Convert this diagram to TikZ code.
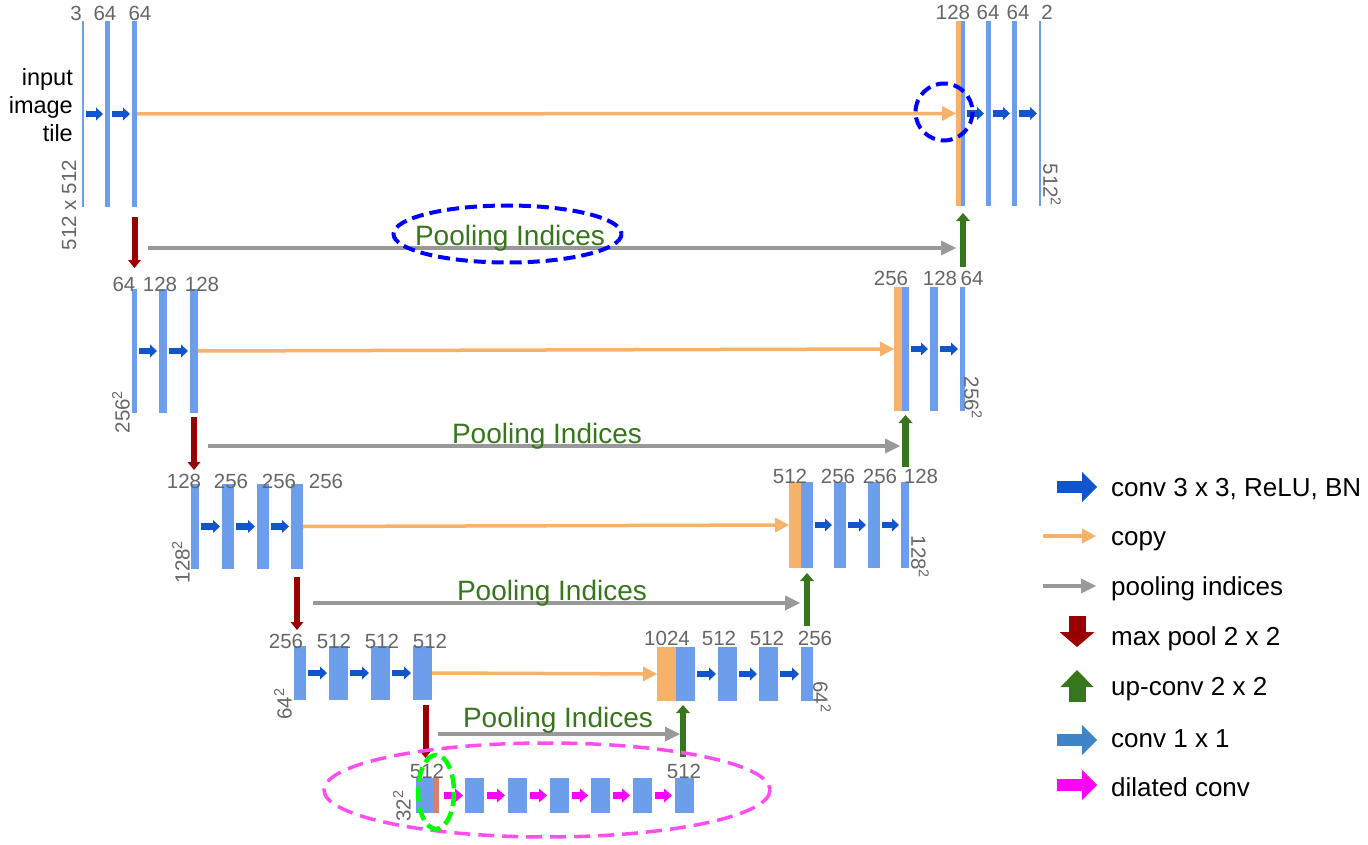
\documentclass[tikz,border=0pt]{standalone}
\usepackage{fontspec}
\setmainfont{Liberation Sans}
\usetikzlibrary{arrows.meta}
\definecolor{barblue}{HTML}{6D9EEB}
\definecolor{copyor}{HTML}{F6B26B}
\definecolor{convblue}{HTML}{1155CC}
\definecolor{onebl}{HTML}{3D85C6}
\definecolor{poolgray}{HTML}{999999}
\definecolor{maxred}{HTML}{990000}
\definecolor{upgreen}{HTML}{38761D}
\definecolor{labgray}{HTML}{666666}
\definecolor{salmonbar}{HTML}{DD7E6B}
\definecolor{dilmag}{HTML}{FF00FF}
\definecolor{ellmag}{HTML}{FF4DF0}
\definecolor{ellgreen}{HTML}{00FF00}
\definecolor{ellblue}{HTML}{0000FF}
\newcommand{\blk}[6]{\node[blkbox, fill=#2, minimum width={#4-#3}, minimum height={#6-#5}, anchor=north west] (#1) at (#3,#5) {};}
\begin{document}
\begin{tikzpicture}[x=1pt,y=-1pt,
  blkbox/.style={draw=none, inner sep=0pt, outer sep=0pt, rectangle},
  num/.style={text=labgray, font=\fontsize{20.5}{20.5}\selectfont, inner sep=0pt},
  conv/.style={draw=convblue, line width=6.5pt, -{Triangle[length=7pt,width=13pt,line width=0pt]}, shorten <=2pt, shorten >=2pt},
  dil/.style={draw=dilmag, line width=7pt, -{Triangle[length=8pt,width=14pt,line width=0pt]}, shorten <=3pt, shorten >=3pt},
  copyarr/.style={draw=copyor, line width=3.5pt, -{Triangle[length=14pt,width=15pt,line width=0pt]}},
  poolarr/.style={draw=poolgray, line width=4pt, -{Triangle[length=15pt,width=15pt,line width=0pt]}},
  maxpool/.style={draw=maxred, line width=6pt, -{Triangle[length=8pt,width=13pt,line width=0pt]}},
  upconv/.style={draw=upgreen, line width=6.5pt, -{Triangle[length=8pt,width=14pt,line width=0pt]}},
  pooltxt/.style={text=upgreen, font=\fontsize{28}{28}\selectfont, inner sep=0pt, anchor=base},
  legtxt/.style={font=\fontsize{26}{26}\selectfont, anchor=base west, inner sep=0pt},
  legconv/.style={draw=convblue, line width=12pt, -{Triangle[length=15pt,width=30pt,line width=0pt]}},
  legone/.style={draw=onebl, line width=12pt, -{Triangle[length=15pt,width=30pt,line width=0pt]}},
  legdil/.style={draw=dilmag, line width=12pt, -{Triangle[length=15pt,width=30pt,line width=0pt]}},
  legmax/.style={draw=maxred, line width=17pt, -{Triangle[length=15pt,width=35pt,line width=0pt]}},
  legup/.style={draw=upgreen, line width=17pt, -{Triangle[length=17pt,width=33pt,line width=0pt]}},
  hilite/.style={line width=4pt, dash pattern=on 12pt off 6pt}
]
\fill[white] (0,0) rectangle (1368,845);
\useasboundingbox (0,0) rectangle (1368,845);

% ---------- level 1 ----------
\blk{b11}{barblue}{82}{84}{21}{207}
\blk{b12}{barblue}{105}{110}{21}{207}
\blk{b13}{barblue}{132}{137}{21}{207}
\blk{o1}{copyor}{956}{961}{21}{206}
\blk{u1}{barblue}{961}{965}{21}{206}
\blk{r12}{barblue}{986}{991}{21}{206}
\blk{r13}{barblue}{1012}{1017}{21}{206}
\blk{r14}{barblue}{1039}{1041}{21}{206}
% ---------- level 2 ----------
\blk{b21}{barblue}{132}{137}{289}{413}
\blk{b22}{barblue}{159}{167}{289}{413}
\blk{b23}{barblue}{190}{198}{289}{413}
\blk{o2}{copyor}{894}{902}{287}{411}
\blk{u2}{barblue}{902}{909}{287}{411}
\blk{r22}{barblue}{930}{938}{287}{411}
\blk{r23}{barblue}{960}{965}{287}{411}
% ---------- level 3 ----------
\blk{b31}{barblue}{191}{199}{484}{569}
\blk{b32}{barblue}{222}{234}{484}{569}
\blk{b33}{barblue}{257}{269}{484}{569}
\blk{b34}{barblue}{291}{303}{484}{569}
\blk{o3}{copyor}{789}{801}{482}{568}
\blk{u3}{barblue}{801}{813}{482}{568}
\blk{r32}{barblue}{834}{846}{482}{568}
\blk{r33}{barblue}{868}{880}{482}{568}
\blk{r34}{barblue}{901}{909}{482}{568}
% ---------- level 4 ----------
\blk{b41}{barblue}{294}{306}{646}{700}
\blk{b42}{barblue}{329}{348}{646}{700}
\blk{b43}{barblue}{371}{390}{646}{700}
\blk{b44}{barblue}{413}{432}{646}{700}
\blk{o4}{copyor}{657}{676}{647}{701}
\blk{u4}{barblue}{676}{695}{647}{701}
\blk{r42}{barblue}{718}{737}{647}{701}
\blk{r43}{barblue}{759}{778}{647}{701}
\blk{r44}{barblue}{801}{813}{647}{701}
% ---------- bottom ----------
\blk{c1}{barblue}{416}{433}{778}{813}
\blk{s5}{salmonbar}{433}{439}{778}{813}
\blk{c2}{barblue}{465}{484}{778}{813}
\blk{c3}{barblue}{508}{527}{778}{813}
\blk{c4}{barblue}{550}{569}{778}{813}
\blk{c5}{barblue}{591}{610}{778}{813}
\blk{c6}{barblue}{633}{652}{778}{813}
\blk{c7}{barblue}{675}{694}{778}{813}

% ---------- conv arrows ----------
\draw[conv] (b11.east) -- (b12.west);
\draw[conv] (b12.east) -- (b13.west);
\draw[conv] (u1.east) -- (r12.west);
\draw[conv] (r12.east) -- (r13.west);
\draw[conv] (r13.east) -- (r14.west);
\draw[conv] (b21.east) -- (b22.west);
\draw[conv] (b22.east) -- (b23.west);
\draw[conv] (u2.east) -- (r22.west);
\draw[conv] (r22.east) -- (r23.west);
\draw[conv] (b31.east) -- (b32.west);
\draw[conv] (b32.east) -- (b33.west);
\draw[conv] (b33.east) -- (b34.west);
\draw[conv] (u3.east) -- (r32.west);
\draw[conv] (r32.east) -- (r33.west);
\draw[conv] (r33.east) -- (r34.west);
\draw[conv] (b41.east) -- (b42.west);
\draw[conv] (b42.east) -- (b43.west);
\draw[conv] (b43.east) -- (b44.west);
\draw[conv] (u4.east) -- (r42.west);
\draw[conv] (r42.east) -- (r43.west);
\draw[conv] (r43.east) -- (r44.west);
\draw[dil, shorten <=5pt, shorten >=2pt] (s5.east) -- (c2.west);
\draw[dil] (c2.east) -- (c3.west);
\draw[dil] (c3.east) -- (c4.west);
\draw[dil] (c4.east) -- (c5.west);
\draw[dil] (c5.east) -- (c6.west);
\draw[dil] (c6.east) -- (c7.west);

% ---------- copy arrows ----------
\draw[copyarr] (b13.east) -- (o1.west);
\draw[copyarr] (b23.east) -- (o2.west);
\draw[copyarr] (b34.east) -- (o3.west);
\draw[copyarr] (b44.east) -- (o4.west);

% ---------- max pool arrows ----------
\coordinate (m1) at (134.5,268);
\coordinate (m2) at (194,470);
\coordinate (m3) at (297,630);
\coordinate (m4) at (425.5,758);
\draw[maxpool, shorten <=10pt] (b13.south -| m1) -- (m1);
\draw[maxpool, shorten <=4pt] (b23.south -| m2) -- (m2);
\draw[maxpool, shorten <=8pt] (b34.south -| m3) -- (m3);
\draw[maxpool, shorten <=5pt] (b44.south -| m4) -- (m4);

% ---------- up-conv arrows ----------
\coordinate (g1) at (963,267);
\coordinate (g2) at (905.5,467);
\coordinate (g3) at (807,626);
\coordinate (g4) at (683,757);
\draw[upconv, shorten >=7pt] (g1) -- (g1 |- u1.south);
\draw[upconv, shorten >=4pt] (g2) -- (g2 |- u2.south);
\draw[upconv, shorten >=5pt] (g3) -- (g3 |- u3.south);
\draw[upconv, shorten >=4pt] (g4) -- (g4 |- u4.south);

% ---------- pooling indices ----------
\coordinate (ps1) at (148,248); \coordinate (pe1) at (956,248);
\coordinate (ps2) at (208,446); \coordinate (pe2) at (900,446);
\coordinate (ps3) at (313,603); \coordinate (pe3) at (800,603);
\coordinate (ps4) at (438,734); \coordinate (pe4) at (680,734);
\draw[poolarr] (ps1) -- (pe1);
\draw[poolarr] (ps2) -- (pe2);
\draw[poolarr] (ps3) -- (pe3);
\draw[poolarr] (ps4) -- (pe4);
\node[pooltxt] (pt1) at (510,245) {Pooling Indices};
\node[pooltxt] (pt2) at (547,443) {Pooling Indices};
\node[pooltxt] (pt3) at (552,600) {Pooling Indices};
\node[pooltxt] (pt4) at (558,727) {Pooling Indices};

% ---------- channel labels ----------
\node[num] (n11) at (76,13) {3};
\node[num] (n12) at (105,13) {64};
\node[num] (n13) at (140,13) {64};
\node[num] (n14) at (953,12) {128};
\node[num] (n15) at (988,12) {64};
\node[num] (n16) at (1018,12) {64};
\node[num] (n17) at (1047,12) {2};
\node[num] (n21) at (124,284) {64};
\node[num] (n22) at (160,284) {128};
\node[num] (n23) at (202,284) {128};
\node[num] (n24) at (891,278) {256};
\node[num] (n25) at (940,278) {128};
\node[num] (n26) at (972,278) {64};
\node[num] (n31) at (184,481) {128};
\node[num] (n32) at (231,481) {256};
\node[num] (n33) at (279,481) {256};
\node[num] (n34) at (326,481) {256};
\node[num] (n35) at (790,476) {512};
\node[num] (n36) at (838,476) {256};
\node[num] (n37) at (880,476) {256};
\node[num] (n38) at (921,476) {128};
\node[num] (n41) at (286,641) {256};
\node[num] (n42) at (334,641) {512};
\node[num] (n43) at (382,641) {512};
\node[num] (n44) at (430,641) {512};
\node[num] (n45) at (667,638) {1024};
\node[num] (n46) at (719,638) {512};
\node[num] (n47) at (767,638) {512};
\node[num] (n48) at (815,638) {256};
\node[num] (n51) at (427,771) {512};
\node[num] (n52) at (684,771) {512};

% ---------- size labels ----------
\node[num, rotate=90] (z1) at (69,205) {512 x 512};
\node[num, rotate=-90] (z2) at (1052,185) {512\textsuperscript{2}};
\node[num, rotate=90] (z3) at (121,412) {256\textsuperscript{2}};
\node[num, rotate=-90] (z4) at (973,398) {256\textsuperscript{2}};
\node[num, rotate=90] (z5) at (181,562) {128\textsuperscript{2}};
\node[num, rotate=-90] (z6) at (920,557) {128\textsuperscript{2}};
\node[num, rotate=90] (z7) at (283,704) {64\textsuperscript{2}};
\node[num, rotate=-90] (z8) at (822,697) {64\textsuperscript{2}};
\node[num, rotate=90] (z9) at (402,806) {32\textsuperscript{2}};

% ---------- input text ----------
\node[font=\fontsize{23.5}{28}\selectfont, align=right, inner sep=0pt, anchor=north east] (inp) at (73,68) {input\\image\\tile};

% ---------- highlights ----------
\draw[hilite, draw=ellblue] (944,112) circle [radius=28.5];
\draw[hilite, draw=ellblue] (507.5,234) ellipse [x radius=114, y radius=28.5];
\draw[line width=3.5pt, draw=ellmag, dash pattern=on 16pt off 8pt] (547,790) ellipse [x radius=223, y radius=47];
\draw[line width=4.5pt, draw=ellgreen, dash pattern=on 14pt off 6pt] (436,792) ellipse [x radius=18, y radius=37];

% ---------- legend ----------
\coordinate (la1) at (1057,487); \coordinate (lb1) at (1097,487);
\coordinate (la2) at (1043,536); \coordinate (lb2) at (1096,536);
\coordinate (la3) at (1043,586); \coordinate (lb3) at (1096,586);
\coordinate (la4) at (1077,616); \coordinate (lb4) at (1077,647);
\coordinate (la5) at (1077,702); \coordinate (lb5) at (1077,670);
\coordinate (la6) at (1057,740); \coordinate (lb6) at (1097,740);
\coordinate (la7) at (1057,785); \coordinate (lb7) at (1097,785);
\draw[legconv] (la1) -- (lb1);
\draw[copyarr] (la2) -- (lb2);
\draw[poolarr] (la3) -- (lb3);
\draw[legmax] (la4) -- (lb4);
\draw[legup] (la5) -- (lb5);
\draw[legone] (la6) -- (lb6);
\draw[legdil] (la7) -- (lb7);
\node[legtxt] (lt1) at (1111,496) {conv 3 x 3, ReLU, BN};
\node[legtxt] (lt2) at (1111,545) {copy};
\node[legtxt] (lt3) at (1111,595) {pooling indices};
\node[legtxt] (lt4) at (1111,645) {max pool 2 x 2};
\node[legtxt] (lt5) at (1111,695) {up-conv 2 x 2};
\node[legtxt] (lt6) at (1111,747) {conv 1 x 1};
\node[legtxt] (lt7) at (1111,796) {dilated conv};
\end{tikzpicture}
\end{document}
